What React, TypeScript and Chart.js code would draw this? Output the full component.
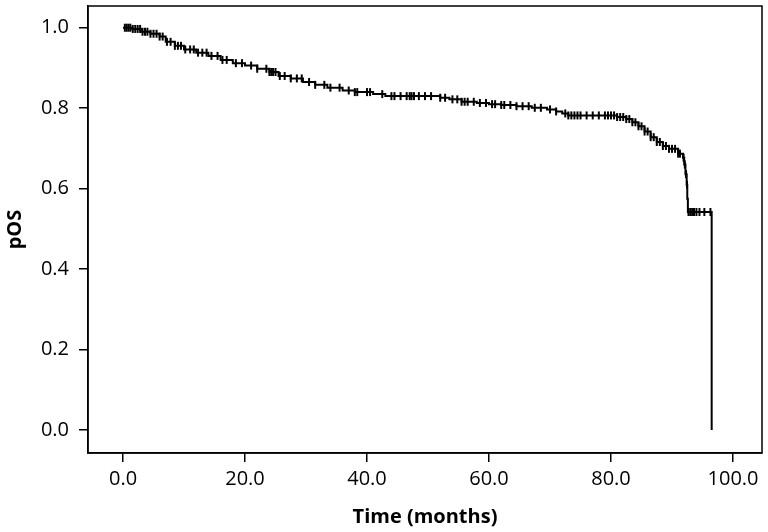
import React, { useEffect, useRef } from "react";
import { Chart, registerables } from "chart.js";

Chart.register(...registerables);

// Kaplan-Meier step points: time (months) and survival probability after each step
const kmTimes = [0, 1.5, 3, 4.5, 6, 7, 8.5, 10, 12, 14, 16, 18, 20, 22, 24, 25.5, 27.5, 29.5, 31.5, 33.5, 36, 38, 41, 43, 52, 53.5, 55.5, 58, 60, 62, 64.5, 67, 69.5, 71, 72, 73, 81, 82.5, 83.5, 84.5, 85.5, 86.5, 87.5, 88.5, 89.5, 91, 91.8, 92.0, 92.2, 92.4, 92.5, 92.6, 96.5];
const kmSurv = [1.0, 0.997, 0.99, 0.985, 0.978, 0.965, 0.955, 0.946, 0.938, 0.93, 0.92, 0.912, 0.906, 0.898, 0.89, 0.88, 0.874, 0.865, 0.858, 0.851, 0.844, 0.84, 0.835, 0.83, 0.826, 0.822, 0.816, 0.813, 0.81, 0.808, 0.805, 0.801, 0.797, 0.792, 0.787, 0.782, 0.778, 0.773, 0.765, 0.755, 0.742, 0.728, 0.716, 0.706, 0.699, 0.687, 0.677, 0.66, 0.636, 0.61, 0.575, 0.542, 0.0];

// Censored observation times (months)
const censorTimes = [0.3, 0.6, 0.9, 1.2, 1.6, 2, 2.4, 2.8, 3.2, 3.6, 4, 4.5, 5, 5.5, 6, 6.5, 7.2, 7.8, 8.5, 9, 9.5, 10.2, 11, 11.6, 12.3, 13, 13.7, 14.5, 15.5, 16.3, 17, 18.5, 19.5, 21, 22, 23.5, 24, 24.3, 24.6, 25, 25.7, 26.5, 27.5, 28.5, 29.3, 30.5, 31.5, 33, 34, 35.5, 37, 38, 38.4, 40, 40.5, 42.5, 44, 44.5, 45.5, 46.5, 47, 47.3, 47.7, 48.5, 49.5, 50.5, 52, 52.8, 54, 54.8, 55.5, 56, 56.5, 57.5, 58.5, 59.5, 60.5, 61, 62, 62.5, 63.5, 64.5, 65.5, 66.5, 67.5, 68.5, 70, 71, 72.5, 73, 73.5, 74, 74.5, 75, 76, 77, 78, 79, 79.5, 80, 80.5, 81, 81.5, 82, 82.5, 83, 83.5, 84, 84.5, 85, 85.5, 86, 86.5, 87, 87.5, 88, 88.5, 89, 89.5, 90, 90.5, 91, 91.3, 91.9, 92.1, 92.3, 92.45, 92.7, 93, 93.3, 93.6, 94, 94.5, 95.3, 96.3];

const xTicks = [0, 20, 40, 60, 80, 100];
const yTicks = [0, 0.2, 0.4, 0.6, 0.8, 1.0];

const xTitle = "Time (months)";
const yTitle = "pOS";

function survivalAt(t: number): number {
  let s = kmSurv[0];
  for (let i = 0; i < kmTimes.length; i++) {
    if (kmTimes[i] <= t) s = kmSurv[i];
    else break;
  }
  return s;
}

const boxPlugin = {
  id: "boxBorder",
  afterDraw(chart: any) {
    const { ctx, chartArea } = chart;
    ctx.save();
    ctx.strokeStyle = "#000";
    ctx.lineWidth = 1.5;
    ctx.strokeRect(chartArea.left, chartArea.top, chartArea.right - chartArea.left, chartArea.bottom - chartArea.top);
    ctx.restore();
  },
};

export default function App() {
  const canvasRef = useRef<HTMLCanvasElement | null>(null);

  useEffect(() => {
    document.body.style.margin = "0";
    const canvas = canvasRef.current;
    if (!canvas) return;
    const curve = kmTimes.map((t, i) => ({ x: t, y: kmSurv[i] }));
    const censors = censorTimes.map((t) => ({ x: t, y: survivalAt(t) }));
    const font = { family: "'Open Sans', 'Noto Sans', sans-serif", size: 20 };
    const chart = new Chart(canvas, {
      type: "scatter",
      data: {
        datasets: [
          {
            label: "Survival",
            data: curve,
            showLine: true,
            stepped: true,
            borderColor: "#000",
            borderWidth: 2,
            pointRadius: 0,
            fill: false,
          } as any,
          {
            label: "Censored",
            data: censors,
            showLine: false,
            pointStyle: "line",
            rotation: 90,
            pointRadius: 4,
            borderColor: "#000",
            borderWidth: 2,
          } as any,
        ],
      },
      plugins: [boxPlugin],
      options: {
        animation: false,
        responsive: false,
        maintainAspectRatio: false,
        layout: { padding: { left: 0, right: 6, top: 2, bottom: 0 } },
        plugins: {
          legend: { display: false },
          tooltip: { enabled: false },
        },
        scales: {
          x: {
            type: "linear",
            min: -5.74,
            max: 104.75,
            afterBuildTicks: (scale: any) => {
              scale.ticks = xTicks.map((v) => ({ value: v }));
            },
            afterFit: (scale: any) => {
              scale.height = 79;
              scale.paddingLeft = 0;
              scale.paddingRight = 0;
            },
            ticks: {
              color: "#000",
              font,
              padding: 5,
              maxRotation: 0,
              callback: (v: any) => Number(v).toFixed(1),
            },
            grid: {
              display: true,
              drawOnChartArea: false,
              drawTicks: true,
              tickLength: 9,
              color: "#000",
              lineWidth: 1.5,
            },
            border: { display: true, color: "#000", width: 1.5 },
            title: {
              display: true,
              text: xTitle,
              color: "#000",
              font: { ...font, weight: "bold" },
              padding: { top: 0, bottom: 3 },
            },
          },
          y: {
            type: "linear",
            min: -0.057,
            max: 1.054,
            afterBuildTicks: (scale: any) => {
              scale.ticks = yTicks.map((v) => ({ value: v }));
            },
            afterFit: (scale: any) => {
              scale.width = 88;
              scale.paddingTop = 0;
              scale.paddingBottom = 0;
            },
            ticks: {
              color: "#000",
              font,
              padding: 10,
              callback: (v: any) => Number(v).toFixed(1),
            },
            grid: {
              display: true,
              drawOnChartArea: false,
              drawTicks: true,
              tickLength: 9,
              color: "#000",
              lineWidth: 1.5,
            },
            border: { display: true, color: "#000", width: 1.5 },
            title: {
              display: true,
              text: yTitle,
              color: "#000",
              font: { ...font, weight: "bold" },
              padding: { top: 3, bottom: 0 },
            },
          },
        },
      } as any,
    });
    return () => chart.destroy();
  }, []);

  return (
    <div style={{ width: 768, height: 532, background: "#fff" }}>
      <canvas ref={canvasRef} width={768} height={532} style={{ display: "block" }} />
    </div>
  );
}
